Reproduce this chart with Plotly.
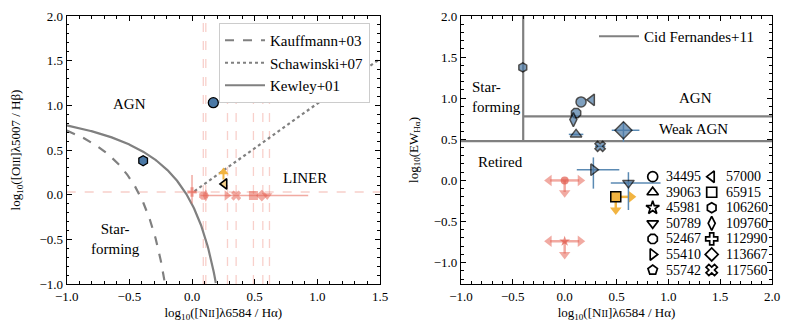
import numpy as np
import plotly.graph_objects as go

# ---------------- data ----------------
# Left panel: BPT diagram
bpt_blue_x = [0.17, -0.39]
bpt_blue_y = [1.03, 0.38]
bpt_blue_sym = ["circle", "hexagon"]

bpt_lim_x = [0.09, 0.11, 0.278, 0.352, 0.49, 0.557, 0.60]
bpt_lim_y = [-0.01, -0.01, -0.01, -0.01, -0.01, -0.01, -0.01]
bpt_lim_sym = ["octagon", "diamond-tall", "triangle-right", "x", "square", "diamond", "triangle-down"]
bpt_vlines = [0.09, 0.11, 0.283, 0.352, 0.49, 0.565, 0.618]
bpt_hline = 0.03
bpt_plus_x = [0.0]
bpt_plus_y = [0.03]
bpt_plus_err_lo = [0.13]
bpt_plus_err_hi = [0.19]
bpt_herr_lo = 0.49   # horizontal error of the red group (around x=0.557)
bpt_herr_hi = 0.37

bpt_orange_up_x = [0.251]
bpt_orange_up_y = [0.18]
bpt_orange_up_len = 0.05
bpt_tri_left_x = [0.259]
bpt_tri_left_y = [0.12]

# demarcation lines
kauff_x = np.linspace(-1.0, -0.215, 200)
kewley_x = np.linspace(-1.0, 0.19, 200)
schaw_x = [0.02, 1.5]
schaw_slope = 1.0
schaw_icpt = 0.02

# Right panel: WHAN diagram
ew_x = [0.158, 0.262, 0.11, 0.084, 0.11, 0.567, 0.342, 0.277, 0.615, -0.404]
ew_y = [0.955, 0.98, 0.82, 0.74, 0.56, 0.61, 0.415, 0.13, -0.03, 1.374]
ew_sym = ["circle", "triangle-left", "octagon", "diamond-tall", "triangle-up",
          "diamond", "x", "triangle-right", "triangle-down", "hexagon"]
ew_size = [10, 10, 10, 10, 10, 13, 9, 10, 10, 9]
ew_xerr_lo = [0, 0, 0, 0, 0.07, 0.113, 0.05, 0.16, 0.17, 0]
ew_xerr_hi = [0, 0, 0, 0, 0.07, 0.154, 0.05, 0.25, 0.31, 0]
ew_yerr_lo = [0, 0, 0, 0, 0, 0.14, 0, 0.23, 0.33, 0]
ew_yerr_hi = [0, 0, 0, 0, 0, 0.10, 0, 0.15, 0.13, 0]

# upper-limit objects
lim_x = [0.493, 0.0, 0.0]
lim_y = [-0.20, 0.0, -0.74]
lim_sym = ["square", "circle", "star"]
lim_left = [0.0, 0.17, 0.17]
lim_right = [0.17, 0.17, 0.17]
lim_down = [0.19, 0.18, 0.19]

cid_vx = -0.4
cid_lo = np.log10(3)
cid_hi = np.log10(6)

legend_ids = ["34495", "39063", "45981", "50789", "52467", "55410", "55742",
              "57000", "65915", "106260", "109760", "112990", "113667", "117560"]
legend_syms = ["circle", "triangle-up", "star", "triangle-down", "octagon", "triangle-right", "pentagon",
               "triangle-left", "square", "hexagon", "diamond-tall", "cross", "diamond", "x"]

# ---------------- style ----------------
BLUE = "#4a78a5"
BLUE_ERR = "#5b8ab3"
ORANGE = "#f2b441"
RED = "rgba(230,100,85,0.55)"
RED_LINE = "rgba(235,120,105,0.35)"
GREY = "#808080"
FONT = "Liberation Serif"

# page has an 8px body margin: figure is placed at (8, 8)
OFF = 8
W, H = 777, 318
L1, R1 = 66.7, 380.0
L2, R2 = 461.0, 772.0
TOP, BOT = 16.0, 284.0

fig = go.Figure()

# ---------- left panel ----------
for xv in bpt_vlines:
    fig.add_trace(go.Scatter(x=[xv, xv], y=[-1, 2], mode="lines",
                             line=dict(color=RED_LINE, width=1.3, dash="dash"),
                             showlegend=False, xaxis="x", yaxis="y"))
fig.add_trace(go.Scatter(x=[-1, 1.5], y=[bpt_hline, bpt_hline], mode="lines",
                         line=dict(color=RED_LINE, width=1.3, dash="dash"),
                         showlegend=False, xaxis="x", yaxis="y"))

kauff_y = 0.61 / (kauff_x - 0.05) + 1.3
kewley_y = 0.61 / (kewley_x - 0.47) + 1.19
fig.add_trace(go.Scatter(x=kauff_x, y=kauff_y, mode="lines", name="Kauffmann+03",
                         line=dict(color=GREY, width=2.2, dash="dash"),
                         legend="legend", xaxis="x", yaxis="y"))
fig.add_trace(go.Scatter(x=schaw_x, y=[schaw_slope * v + schaw_icpt for v in schaw_x], mode="lines",
                         name="Schawinski+07", line=dict(color=GREY, width=2.2, dash="dot"),
                         legend="legend", xaxis="x", yaxis="y"))
fig.add_trace(go.Scatter(x=kewley_x, y=kewley_y, mode="lines", name="Kewley+01",
                         line=dict(color=GREY, width=2.2),
                         legend="legend", xaxis="x", yaxis="y"))

err_hi = [0] * len(bpt_lim_x)
err_lo = [0] * len(bpt_lim_x)
err_hi[5] = bpt_herr_hi
err_lo[5] = bpt_herr_lo
fig.add_trace(go.Scatter(x=bpt_lim_x, y=bpt_lim_y, mode="markers",
                         marker=dict(symbol=bpt_lim_sym, size=9, color=RED, line=dict(width=0)),
                         error_x=dict(type="data", symmetric=False, array=err_hi, arrayminus=err_lo,
                                      color=RED, thickness=1.5, width=0),
                         showlegend=False, xaxis="x", yaxis="y"))
fig.add_trace(go.Scatter(x=bpt_plus_x, y=bpt_plus_y, mode="markers",
                         marker=dict(symbol="cross", size=8, color=RED, line=dict(width=0)),
                         error_y=dict(type="data", symmetric=False, array=bpt_plus_err_hi,
                                      arrayminus=bpt_plus_err_lo, color=RED, thickness=1.5, width=0),
                         error_x=dict(type="data", array=[0.03], color=RED, thickness=1.5, width=0),
                         showlegend=False, xaxis="x", yaxis="y"))

for xv, yv in zip(bpt_orange_up_x, bpt_orange_up_y):
    fig.add_trace(go.Scatter(x=[xv, xv], y=[yv - 0.01, yv + bpt_orange_up_len], mode="lines",
                             line=dict(color=ORANGE, width=2), showlegend=False, xaxis="x", yaxis="y"))
    fig.add_trace(go.Scatter(x=[xv], y=[yv + bpt_orange_up_len + 0.025], mode="markers",
                             marker=dict(symbol="triangle-up", size=9, color=ORANGE),
                             showlegend=False, xaxis="x", yaxis="y"))
fig.add_trace(go.Scatter(x=bpt_tri_left_x, y=bpt_tri_left_y, mode="markers",
                         marker=dict(symbol="triangle-left", size=9, color="rgba(242,180,65,0.6)",
                                     line=dict(color="black", width=1.6)),
                         showlegend=False, xaxis="x", yaxis="y"))

fig.add_trace(go.Scatter(x=bpt_blue_x, y=bpt_blue_y, mode="markers",
                         marker=dict(symbol=bpt_blue_sym, size=10, color=BLUE,
                                     line=dict(color="black", width=1.3)),
                         showlegend=False, xaxis="x", yaxis="y"))

# ---------- right panel ----------
fig.add_trace(go.Scatter(x=[cid_vx, cid_vx], y=[cid_lo, 2.0], mode="lines",
                         line=dict(color=GREY, width=2.2), showlegend=False, xaxis="x2", yaxis="y2"))
fig.add_trace(go.Scatter(x=[cid_vx, 2.0], y=[cid_hi, cid_hi], mode="lines",
                         line=dict(color=GREY, width=2.2), showlegend=False, xaxis="x2", yaxis="y2"))
fig.add_trace(go.Scatter(x=[-1.0, 2.0], y=[cid_lo, cid_lo], mode="lines", name="Cid Fernandes+11",
                         line=dict(color=GREY, width=2.2), legend="legend4", xaxis="x2", yaxis="y2"))

lim_cols = [ORANGE, RED, RED]
for xv, yv, s, l, r, d, c in zip(lim_x, lim_y, lim_sym, lim_left, lim_right, lim_down, lim_cols):
    segs_x, segs_y, hx, hy, hs = [], [], [], [], []
    if r > 0:
        segs_x += [xv, xv + r - 0.03, None]; segs_y += [yv, yv, None]
        hx.append(xv + r - 0.02); hy.append(yv); hs.append("triangle-right")
    if l > 0:
        segs_x += [xv, xv - l + 0.03, None]; segs_y += [yv, yv, None]
        hx.append(xv - l + 0.02); hy.append(yv); hs.append("triangle-left")
    if d > 0:
        segs_x += [xv, xv, None]; segs_y += [yv, yv - d + 0.04, None]
        hx.append(xv); hy.append(yv - d + 0.03); hs.append("triangle-down")
    fig.add_trace(go.Scatter(x=segs_x, y=segs_y, mode="lines", line=dict(color=c, width=2.5),
                             showlegend=False, xaxis="x2", yaxis="y2"))
    fig.add_trace(go.Scatter(x=hx, y=hy, mode="markers",
                             marker=dict(symbol=hs, size=10, color=c, line=dict(width=0)),
                             showlegend=False, xaxis="x2", yaxis="y2"))
    if c == ORANGE:
        fig.add_trace(go.Scatter(x=[xv], y=[yv], mode="markers",
                                 marker=dict(symbol=s, size=10, color=c, line=dict(color="black", width=1.5)),
                                 showlegend=False, xaxis="x2", yaxis="y2"))
    else:
        fig.add_trace(go.Scatter(x=[xv], y=[yv], mode="markers",
                                 marker=dict(symbol=s, size=8, color="rgba(225,90,75,0.7)", line=dict(width=0)),
                                 showlegend=False, xaxis="x2", yaxis="y2"))

fig.add_trace(go.Scatter(x=ew_x, y=ew_y, mode="markers",
                         marker=dict(symbol=ew_sym, size=ew_size, color=BLUE,
                                     line=dict(color="black", width=1.5)),
                         error_x=dict(type="data", symmetric=False, array=ew_xerr_hi, arrayminus=ew_xerr_lo,
                                      color=BLUE_ERR, thickness=1.5, width=0),
                         error_y=dict(type="data", symmetric=False, array=ew_yerr_hi, arrayminus=ew_yerr_lo,
                                      color=BLUE_ERR, thickness=1.5, width=0),
                         showlegend=False, xaxis="x2", yaxis="y2"))

# ---------- marker legend (drawn on an overlay axis in page-pixel units) ----------
row0, drow = 176.7, 15.55
col_sym = [652.7, 711.7]
col_txt = [664.0, 724.0]
leg_x, leg_y, leg_s = [], [], []
for i, (lab, sym) in enumerate(zip(legend_ids, legend_syms)):
    c = 0 if i < 7 else 1
    r = i if i < 7 else i - 7
    leg_x.append(col_sym[c]); leg_y.append(row0 + r * drow); leg_s.append(sym)
    fig.add_annotation(x=col_txt[c], y=row0 + r * drow, xref="x3", yref="y3", text=lab,
                       showarrow=False, xanchor="left", yanchor="middle",
                       font=dict(family=FONT, size=14, color="black"))
fig.add_trace(go.Scatter(x=leg_x, y=leg_y, mode="markers",
                         marker=dict(symbol=leg_s, size=10, color="white",
                                     line=dict(color="black", width=1.7)),
                         showlegend=False, xaxis="x3", yaxis="y3", hoverinfo="skip"))

# ---------- layout ----------
def px_x(p):
    return (p - OFF) / W
def px_y(p):
    return 1 - (p - OFF) / H

axis_common = dict(showline=True, linecolor="black", linewidth=1.2, mirror="allticks",
                   ticks="inside", ticklen=5, tickwidth=1, tickcolor="black",
                   showgrid=False, zeroline=False, tickformat=".1f", dtick=0.5,
                   automargin=False,
                   minor=dict(ticks="inside", ticklen=2.5, dtick=0.1, tickcolor="black", showgrid=False),
                   tickfont=dict(family=FONT, size=13, color="black"))

xdom1 = [px_x(L1), px_x(R1)]
xdom2 = [px_x(L2), px_x(R2)]
ydom = [px_y(BOT), px_y(TOP)]

xt = "log<sub>10</sub>([N<span style='font-size:10px'>II</span>]λ6584 / Hα)"
tfont = dict(family=FONT, size=13, color="black")
fig.update_layout(
    width=W, height=H, margin=dict(l=0, r=0, t=0, b=0),
    paper_bgcolor="white", plot_bgcolor="white",
    font=dict(family=FONT, size=13, color="black"),
    xaxis=dict(axis_common, domain=xdom1, range=[-1, 1.5], anchor="y",
               title=dict(text=xt, font=tfont, standoff=5)),
    yaxis=dict(axis_common, domain=ydom, range=[-1, 2], anchor="x",
               title=dict(text="log<sub>10</sub>([O<span style='font-size:10px'>III</span>]λ5007 / Hβ)",
                          font=tfont, standoff=15)),
    xaxis2=dict(axis_common, domain=xdom2, range=[-1, 2], anchor="y2",
                title=dict(text=xt, font=tfont, standoff=5)),
    yaxis2=dict(axis_common, domain=ydom, range=[-1.26, 2], anchor="x2",
                title=dict(text="log<sub>10</sub>(EW<sub>Hα</sub>)", font=tfont, standoff=12)),
    xaxis3=dict(overlaying="x2", range=[L2, R2], visible=False, anchor="y3", automargin=False),
    yaxis3=dict(overlaying="y2", range=[BOT, TOP], visible=False, anchor="x3", automargin=False),
    legend=dict(x=px_x(219), y=px_y(23), xanchor="left", yanchor="top",
                bgcolor="white", bordercolor="#cccccc", borderwidth=1,
                font=dict(family=FONT, size=15), itemwidth=40, tracegroupgap=0),
    legend4=dict(x=px_x(594), y=px_y(20), xanchor="left", yanchor="top",
                 bgcolor="rgba(0,0,0,0)", borderwidth=0, font=dict(family=FONT, size=15),
                 itemwidth=40),
)

ann_font = dict(family=FONT, size=15, color="black")
annots = [
    ("x", "y", -0.5, 1.02, "AGN", "center"),
    ("x", "y", 0.9, 0.19, "LINER", "center"),
    ("x", "y", -0.61, -0.5, "Star-<br>forming", "center"),
    ("x2", "y2", 1.26, 1.0, "AGN", "center"),
    ("x2", "y2", 1.24, 0.63, "Weak AGN", "center"),
    ("x2", "y2", -0.86, 0.22, "Retired", "left"),
    ("x2", "y2", -0.91, 1.01, "Star-<br>forming", "left"),
]
for xr, yr, xv, yv, t, al in annots:
    fig.add_annotation(x=xv, y=yv, xref=xr, yref=yr, text=t, showarrow=False, font=ann_font,
                       align=al, xanchor=al if al == "left" else "center")

fig.write_html("out.html")
